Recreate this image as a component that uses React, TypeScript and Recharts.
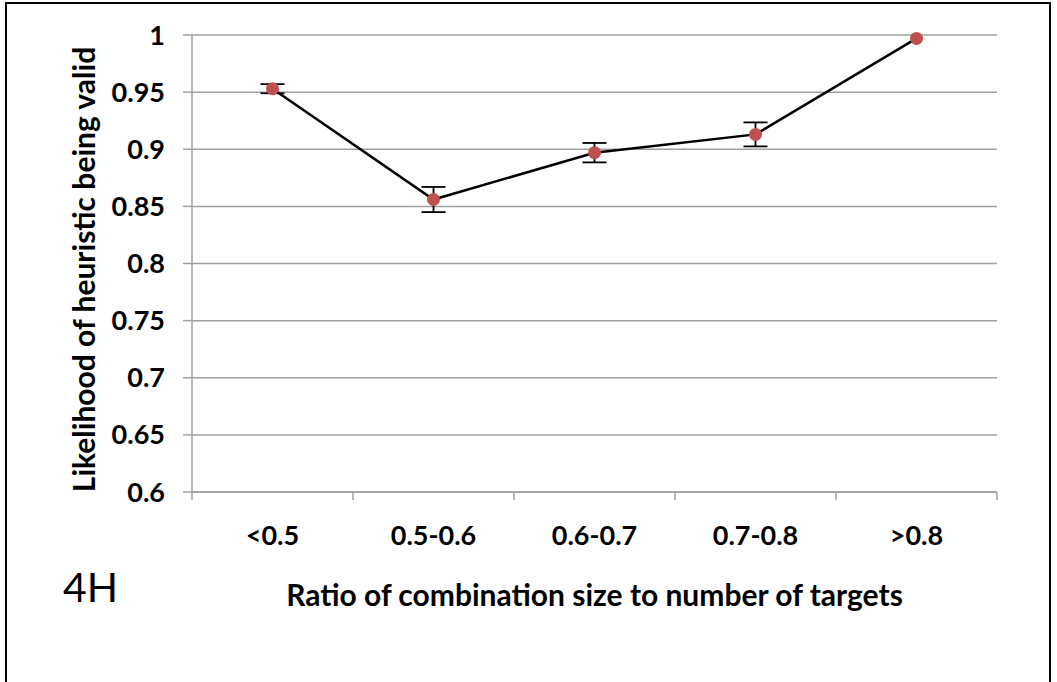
import { ComposedChart, Line, XAxis, YAxis, CartesianGrid, ErrorBar } from 'recharts'

const categories = ['<0.5', '0.5-0.6', '0.6-0.7', '0.7-0.8', '>0.8']
const likelihood = [0.953, 0.856, 0.897, 0.913, 0.997]
const errors = [0.004, 0.011, 0.0085, 0.0105, 0]
const yTicks = [0.6, 0.65, 0.7, 0.75, 0.8, 0.85, 0.9, 0.95, 1]

const data = categories.map((group, i) => ({ group, value: likelihood[i], err: errors[i] }))

const FONT = 'Lato, "Open Sans", sans-serif'
const GRID = '#a0a0a0'
const LABEL_GAP = 34
const titleStyle = { fontFamily: FONT, fontSize: 30, fontWeight: 700, fill: '#000' }

// Excel-style category axis: tick marks sit on the band edges, labels in the middle
function CategoryTick(props: any) {
  const { x, y, payload, index, visibleTicksCount } = props
  const half = payload?.offset ?? 0
  const axisY = y - LABEL_GAP
  const isLast = index === visibleTicksCount - 1
  return (
    <g>
      <line x1={x - half} x2={x - half} y1={axisY} y2={axisY + 8} stroke={GRID} strokeWidth={1.5} />
      {isLast && <line x1={x + half} x2={x + half} y1={axisY} y2={axisY + 8} stroke={GRID} strokeWidth={1.5} />}
      <text x={x} y={y} dy="0.71em" textAnchor="middle" fontFamily={FONT} fontSize={27} fontWeight={700} fill="#000">
        {payload.value}
      </text>
    </g>
  )
}

function YTitle({ viewBox }: { viewBox?: { x: number; y: number; width: number; height: number } }) {
  if (!viewBox) return null
  const cx = viewBox.x + 21
  const cy = viewBox.y + viewBox.height / 2 + 6
  return (
    <text
      x={cx}
      y={cy}
      transform={`rotate(-90, ${cx}, ${cy})`}
      textAnchor="middle"
      dominantBaseline="central"
      style={titleStyle}
    >
      Likelihood of heuristic being valid
    </text>
  )
}

export default function App() {
  return (
    <div style={{ position: 'absolute', left: 0, top: 0, width: 1057, height: 682, background: '#fff', overflow: 'hidden' }}>
      <div
        style={{
          position: 'absolute',
          left: 5,
          top: 2,
          width: 1042,
          height: 700,
          borderTop: '2px solid #000',
          borderLeft: '2px solid #000',
          borderRight: '2px solid #000',
        }}
      />
      <svg width={1057} height={682} style={{ position: 'absolute', left: 0, top: 0 }}>
        <text x={63} y={602} fontFamily={FONT} fontSize={41} fill="#000">
          4H
        </text>
      </svg>
      <div style={{ position: 'absolute', left: 0, top: 0 }}>
        <ComposedChart width={1057} height={682} data={data} margin={{ top: 35, right: 60, left: 62, bottom: 70 }}>
          <CartesianGrid vertical={false} stroke={GRID} strokeWidth={1.5} />
          <XAxis
            dataKey="group"
            scale="band"
            height={120}
            interval={0}
            stroke={GRID}
            strokeWidth={1.5}
            tickLine={false}
            tickSize={0}
            tickMargin={LABEL_GAP}
            tick={<CategoryTick />}
            label={{
              value: 'Ratio of combination size to number of targets',
              position: 'insideBottom',
              offset: 6,
              style: titleStyle,
            }}
          />
          <YAxis
            domain={[0.6, 1]}
            ticks={yTicks}
            width={130}
            tickSize={9}
            tickMargin={18}
            stroke={GRID}
            strokeWidth={1.5}
            tick={{ fontFamily: FONT, fontSize: 27, fontWeight: 700, fill: '#000' }}
            label={<YTitle />}
          />
          <Line
            dataKey="value"
            stroke="#000"
            strokeWidth={2.5}
            dot={{ r: 6.5, fill: '#C0504D', stroke: 'none' }}
            isAnimationActive={false}
          >
            <ErrorBar dataKey="err" width={12} stroke="#000" strokeWidth={1.8} direction="y" />
          </Line>
        </ComposedChart>
      </div>
    </div>
  )
}
